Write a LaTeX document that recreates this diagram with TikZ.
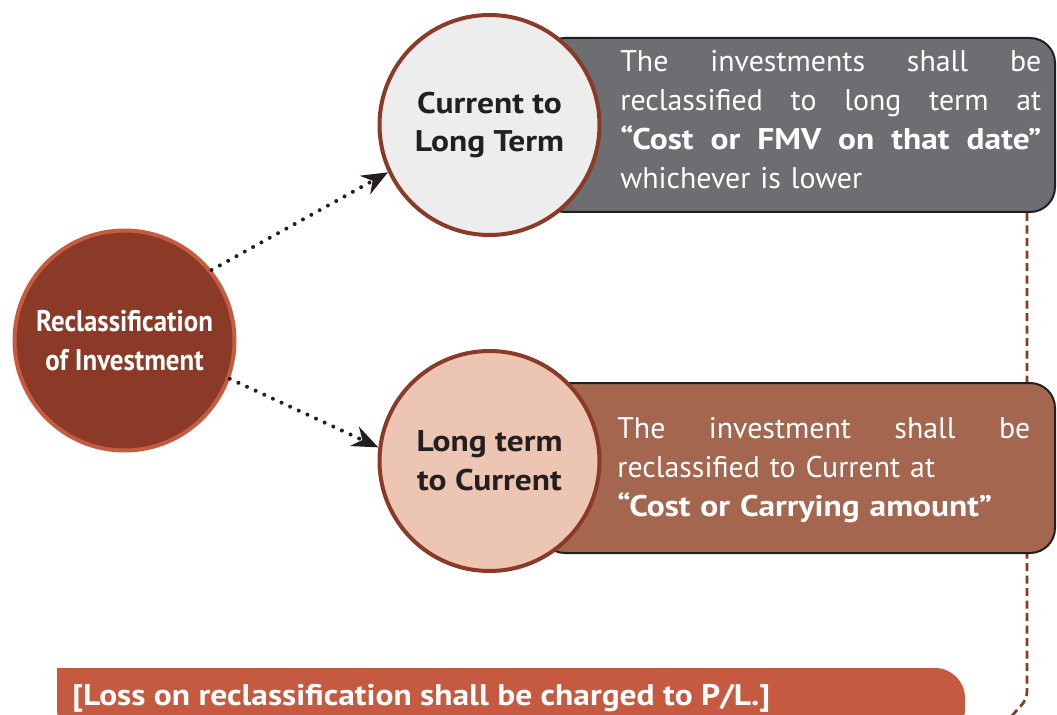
\documentclass[tikz,border=0pt]{standalone}
\usepackage{fontspec}
\setmainfont{PT Sans}[BoldFeatures={FakeStretch=1.12}]
\newfontfamily\narrowfont[FakeStretch=0.9]{PT Sans}
\usetikzlibrary{arrows.meta, positioning}

\definecolor{rustbrown}{HTML}{8A3A27}
\definecolor{rustlight}{HTML}{C75B40}
\definecolor{slategrey}{HTML}{6D6E71}
\definecolor{inkblack}{HTML}{231F20}
\definecolor{palegrey}{HTML}{EDEDED}
\definecolor{peach}{HTML}{EDC5B3}
\definecolor{clay}{HTML}{A56650}
\definecolor{brick}{HTML}{C55A40}

\begin{document}
\begin{tikzpicture}[
    stage/.style={circle, draw=rustbrown, line width=0.08cm, minimum size=4.4cm, inner sep=0pt, align=center, text=inkblack, font=\fontsize{17}{22}\selectfont\bfseries},
    infobox/.style={draw=inkblack, line width=0.04cm, rounded corners=0.5cm, minimum width=10.3cm},
    infotext/.style={text=white, text width=8.42cm, inner sep=0pt, align=left, anchor=west, font=\fontsize{17}{22.2}\selectfont},
    flowlink/.style={inkblack, line width=0.08cm, line cap=round, dash pattern=on 0pt off 0.19cm, -{Stealth[length=0.52cm, width=0.42cm]}},
    dashlink/.style={rustbrown, line width=0.055cm, dash pattern=on 0.16cm off 0.09cm}
]
\useasboundingbox (0,0) rectangle (21.14,14.28);

% boxes behind the circles
\node[infobox, fill=slategrey, minimum height=3.48cm, anchor=east] (ctlbox) at (21.12, 11.78) {};

\coordinate (dashbend) at (20.54, 0.45);
\coordinate (dashend) at (20.2, -0.1);
\draw[dashlink] (ctlbox.south -| dashbend) -- (dashbend) to[out=-90, in=60] (dashend);

\node[infobox, fill=clay, minimum height=3.4cm, anchor=east] (ltcbox) at (21.12, 4.92) {};

% circles
\node[stage, draw=rustlight, fill=rustbrown, text=white, font=\narrowfont\fontsize{17}{22}\selectfont\bfseries] (recl) at (2.49, 7.47) {Reclassification\\of Investment};
\node[stage, fill=palegrey] (ctl) at (9.79, 11.78) {Current to\\Long Term};
\node[stage, fill=peach] (ltc) at (9.79, 5.06) {Long term\\to Current};

\node[infotext] (ctltext) at (12.4, 11.88) {\makebox[8.42cm][l]{The\hfill investments\hfill shall\hfill be}\\
    \makebox[8.42cm][l]{reclassified\hfill to\hfill long\hfill term\hfill at}\\
    \makebox[8.42cm][l]{\bfseries “Cost\hfill or\hfill FMV\hfill on\hfill that\hfill date”}\\
    whichever is lower};
\node[infotext, text width=8.26cm] (ltctext) at (12.34, 4.88) {\makebox[8.26cm][l]{The\hfill investment\hfill shall\hfill be}\\
    reclassified to Current at\\
    \textbf{“Cost or Carrying amount”}};

\draw[flowlink] (recl.39) -- (ctl.205);
\draw[flowlink] (recl.-20) -- (ltc.173);

% bottom note
\fill[brick] (1.14,-0.5) |- (10,0.92) [rounded corners=0.6cm] -| (19.3,-0.5) -- cycle;
\node[anchor=base west, inner sep=0pt, text=white, font=\fontsize{17}{20}\selectfont\bfseries] (loss) at (1.44, 0.18) {[Loss on reclassification shall be charged to P/L.]};

\end{tikzpicture}
\end{document}
